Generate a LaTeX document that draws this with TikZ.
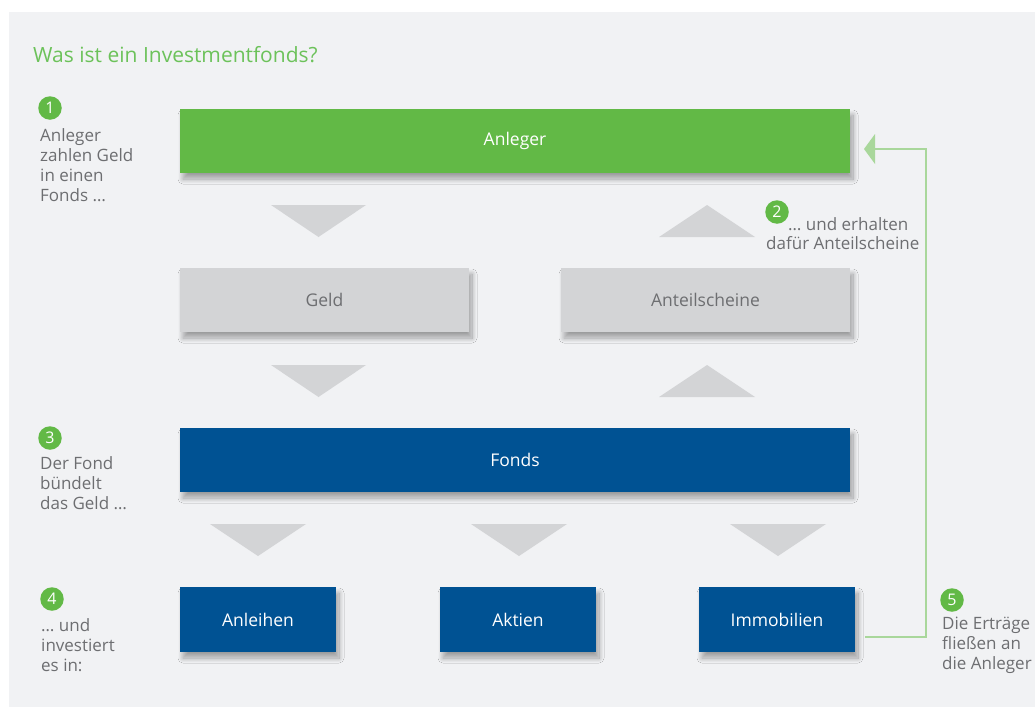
\documentclass[tikz,border=0pt]{standalone}
\usepackage{fontspec}
\setmainfont{Open Sans}
\usetikzlibrary{shadows.blur}
\definecolor{panel}{HTML}{F1F2F4}
\definecolor{lgreen}{HTML}{62B946}
\definecolor{tgreen}{HTML}{6CC25A}
\definecolor{agreen}{HTML}{A9D79B}
\definecolor{lgray}{HTML}{D3D4D6}
\definecolor{tgray}{HTML}{6D6E71}
\definecolor{fblue}{HTML}{005293}
\tikzset{
  x=1pt, y=-1pt,
  box/.style={rectangle, inner sep=0pt, font=\fontsize{17.5}{20}\selectfont,
    blur shadow={shadow xshift=3pt, shadow yshift=-6pt, shadow blur steps=16, shadow blur radius=5pt, shadow opacity=35}},
  greenbox/.style={box, fill=lgreen, text=white},
  graybox/.style={box, fill=lgray, text=tgray},
  bluebox/.style={box, fill=fblue, text=white},
  tri/.style={fill=lgray, draw=none},
  num/.style={circle, fill=lgreen, text=white, inner sep=0pt, minimum size=23.5pt, font=\fontsize{16}{16}\selectfont},
  note/.style={anchor=base west, inner sep=0pt, text=tgray, align=left, font=\fontsize{17}{20}\selectfont},
}
\begin{document}
\begin{tikzpicture}
\useasboundingbox (0,0) rectangle (1035,707);
\fill[white] (0,0) rectangle (1035,707);
\fill[panel] (9,12) rectangle (1035,707);

\node[anchor=base west, inner sep=0pt, text=tgreen, font=\fontsize{21}{24}\selectfont] (title) at (33,62) {Was ist ein Investmentfonds?};

% boxes
\node[greenbox, minimum width=670pt, minimum height=64pt] (anleger) at (515,141) {Anleger};
\node[graybox, minimum width=289pt, minimum height=64pt] (geld) at (324.5,300) {Geld};
\node[graybox, minimum width=289pt, minimum height=64pt] (anteil) at (705.5,300) {Anteilscheine};
\node[bluebox, minimum width=670pt, minimum height=64pt] (fonds) at (515,460) {Fonds};
\node[bluebox, minimum width=156pt, minimum height=65pt] (anleihen) at (258,619.5) {Anleihen};
\node[bluebox, minimum width=156pt, minimum height=65pt] (aktien) at (518,619.5) {Aktien};
\node[bluebox, minimum width=156pt, minimum height=65pt] (immo) at (777,619.5) {Immobilien};

% triangles
\fill[tri] (271,205) -- (366,205) -- (318.5,237) -- cycle;
\fill[tri] (659,237) -- (755,237) -- (707,205) -- cycle;
\fill[tri] (271,365) -- (366,365) -- (318.5,397) -- cycle;
\fill[tri] (659,397) -- (755,397) -- (707,365) -- cycle;
\fill[tri] (210,524) -- (306,524) -- (258,556) -- cycle;
\fill[tri] (471,524) -- (567,524) -- (519,556) -- cycle;
\fill[tri] (730,524) -- (826,524) -- (778,556) -- cycle;

% feedback connector
\coordinate (fbstart) at (865,637);
\coordinate (fbtip) at (864,149);
\draw[agreen, line width=1.6pt] (fbstart) -- (926,637) -- (926,149) -- (874,149);
\fill[agreen] (fbtip) -- (875,134) -- (875,164) -- cycle;

% numbered notes (base anchor = baseline of the last line)
\node[num] (n1) at (50,108) {1};
\node[note] (t1) at (40,201) {Anleger\\zahlen Geld\\in einen\\Fonds \dots};

\node[num] (n2) at (777,212) {2};
\node[note] (t2a) at (788,230) {\dots\ und erhalten};
\node[note] (t2b) at (766,249) {dafür Anteilscheine};

\node[num] (n3) at (50,438) {3};
\node[note] (t3) at (40,509) {Der Fond\\bündelt\\das Geld \dots};

\node[num] (n4) at (52,599) {4};
\node[note] (t4) at (41,671) {\dots\ und\\investiert\\es in:};

\node[num] (n5) at (952,600) {5};
\node[note] (t5) at (942,669) {Die Erträge\\fließen an\\die Anleger};
\end{tikzpicture}
\end{document}
